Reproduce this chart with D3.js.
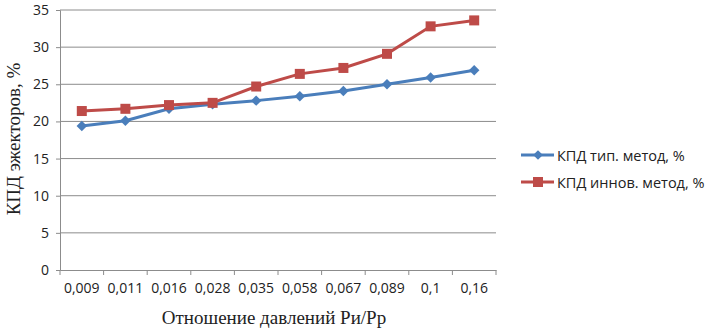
<!DOCTYPE html>
<html>
<head>
<meta charset="utf-8">
<script src="https://cdn.jsdelivr.net/npm/d3@7"></script>
<style>
  body { margin: 0; background: #fff; }
  svg { display: block; }
</style>
</head>
<body>
<div id="chart"></div>
<script>
// данные графика
const categories = ["0,009", "0,011", "0,016", "0,028", "0,035", "0,058", "0,067", "0,089", "0,1", "0,16"];
const typValues = [19.4, 20.1, 21.7, 22.3, 22.8, 23.4, 24.1, 25.0, 25.9, 26.9];
const innovValues = [21.4, 21.7, 22.2, 22.5, 24.7, 26.4, 27.2, 29.1, 32.8, 33.6];
const yTicks = [0, 5, 10, 15, 20, 25, 30, 35];
const seriesNames = ["КПД тип. метод, %", "КПД иннов. метод, %"];

const W = 709, H = 332;
const margin = { top: 10, right: 213, bottom: 62, left: 60 };
const width = W - margin.left - margin.right;
const height = H - margin.top - margin.bottom;

const svgRoot = d3.select("#chart").append("svg")
    .attr("width", W)
    .attr("height", H);

const svg = svgRoot.append("g")
    .attr("transform", `translate(${margin.left},${margin.top})`);

const x = d3.scaleBand().domain(categories).range([0, width]);
const y = d3.scaleLinear().domain([0, 35]).range([height, 0]);

const gridColor = "#8c8c8c";
const tickFont = "'Open Sans', 'Liberation Sans', sans-serif";

// горизонтальная сетка
svg.selectAll(".grid")
    .data(yTicks.filter(d => d > 0))
    .enter()
    .append("line")
    .attr("x1", 0)
    .attr("x2", width)
    .attr("y1", d => y(d))
    .attr("y2", d => y(d))
    .style("stroke", gridColor)
    .style("stroke-width", 1);

// ось Y
const yAxis = svg.append("g")
    .call(d3.axisLeft(y).tickValues(yTicks).tickSize(4).tickPadding(7));
yAxis.select(".domain").style("stroke", gridColor);
yAxis.selectAll("line").style("stroke", gridColor);
yAxis.selectAll("text")
    .style("font-family", tickFont)
    .style("font-size", "14px")
    .style("fill", "#222");

// ось X (риски на границах категорий)
const xAxis = svg.append("g")
    .attr("transform", `translate(0,${height})`)
    .call(d3.axisBottom(x).tickSize(0).tickPadding(13));
xAxis.select(".domain").style("stroke", gridColor);
xAxis.selectAll("text")
    .style("font-family", tickFont)
    .style("font-size", "14px")
    .style("fill", "#222");

const bounds = categories.map(c => x(c)).concat([width]);
svg.selectAll(".xtick")
    .data(bounds)
    .enter()
    .append("line")
    .attr("x1", d => d)
    .attr("x2", d => d)
    .attr("y1", height)
    .attr("y2", height + 5)
    .style("stroke", gridColor);

const cx = c => x(c) + x.bandwidth() / 2;
const line = d3.line()
    .x((d, i) => cx(categories[i]))
    .y(d => y(d));

const blue = "#4a7ebb", red = "#be4b48";

// серия 1 — синяя, ромбы
svg.append("path")
    .datum(typValues)
    .attr("d", line)
    .style("fill", "none")
    .style("stroke", blue)
    .style("stroke-width", 3);

svg.selectAll(".diamond")
    .data(typValues)
    .enter()
    .append("path")
    .attr("d", d3.symbol().type(d3.symbolDiamond2).size(70))
    .attr("transform", (d, i) => `translate(${cx(categories[i])},${y(d)})`)
    .style("fill", blue);

// серия 2 — красная, квадраты
svg.append("path")
    .datum(innovValues)
    .attr("d", line)
    .style("fill", "none")
    .style("stroke", red)
    .style("stroke-width", 3);

svg.selectAll(".square")
    .data(innovValues)
    .enter()
    .append("rect")
    .attr("x", (d, i) => cx(categories[i]) - 5)
    .attr("y", d => y(d) - 5)
    .attr("width", 10)
    .attr("height", 10)
    .style("fill", red);

// подписи осей
svgRoot.append("text")
    .attr("x", 274)
    .attr("y", 324)
    .attr("text-anchor", "middle")
    .style("font-family", "'Liberation Serif', serif")
    .style("font-size", "19px")
    .style("fill", "#222")
    .text("Отношение давлений Pи/Pp");

svgRoot.append("text")
    .attr("transform", `translate(20,139) rotate(-90)`)
    .attr("text-anchor", "middle")
    .style("font-family", "'Liberation Serif', serif")
    .style("font-size", "19px")
    .style("fill", "#222")
    .text("КПД эжекторов, %");

// легенда
const legend = svgRoot.append("g").attr("transform", "translate(521,155)");
const legendColors = [blue, red];
seriesNames.forEach((name, i) => {
    const g = legend.append("g").attr("transform", `translate(0,${i * 27})`);
    g.append("line")
        .attr("x1", 0).attr("x2", 33)
        .style("stroke", legendColors[i])
        .style("stroke-width", 3);
    if (i === 0) {
        g.append("path")
            .attr("d", d3.symbol().type(d3.symbolDiamond2).size(60))
            .attr("transform", "translate(17,0)")
            .style("fill", blue);
    } else {
        g.append("rect")
            .attr("x", 12).attr("y", -5)
            .attr("width", 10).attr("height", 10)
            .style("fill", red);
    }
    g.append("text")
        .attr("x", 36)
        .attr("y", 0)
        .attr("dominant-baseline", "central")
        .style("font-family", tickFont)
        .style("font-size", "14.5px")
        .style("fill", "#222")
        .text(name);
});
</script>
</body>
</html>
